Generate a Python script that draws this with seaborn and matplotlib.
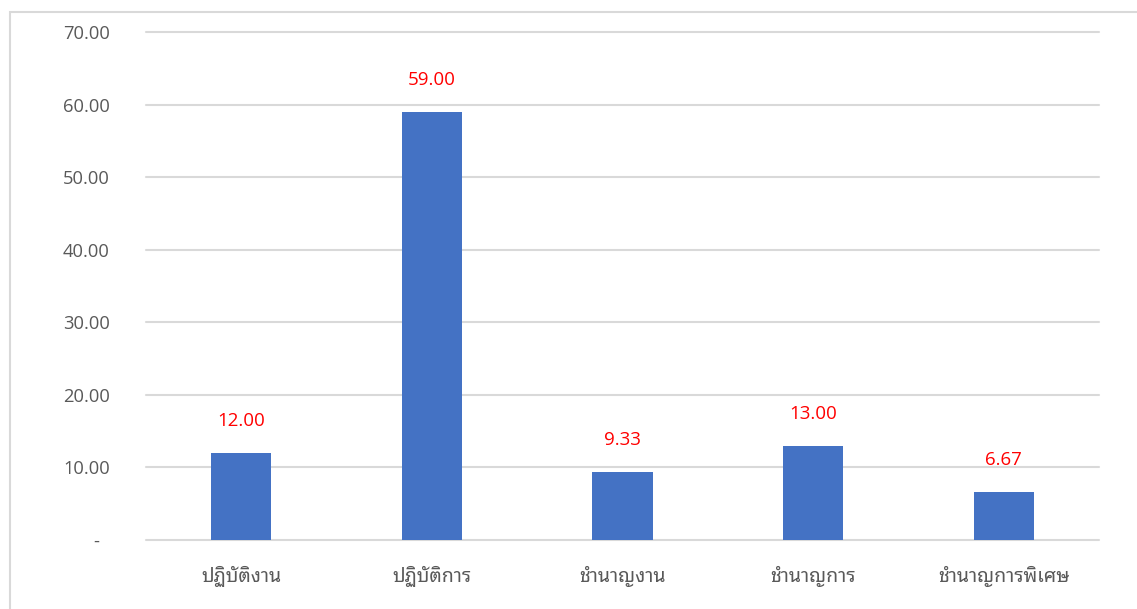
import matplotlib
matplotlib.use("Agg")
import matplotlib.pyplot as plt
from matplotlib.patches import Rectangle
from matplotlib.ticker import FixedLocator
import pandas as pd
import seaborn as sns

# Position levels and their values
categories = ["ปฏิบัติงาน", "ปฏิบัติการ", "ชำนาญงาน", "ชำนาญการ", "ชำนาญการพิเศษ"]
values = [12.00, 59.00, 9.33, 13.00, 6.67]
y_ticks = [0, 10, 20, 30, 40, 50, 60, 70]
y_tick_labels = ["-  ", "10.00", "20.00", "30.00", "40.00", "50.00", "60.00", "70.00"]

df = pd.DataFrame({"level": categories, "value": values})

sns.set_theme(style="white")
plt.rcParams["font.family"] = ["Open Sans", "Noto Sans Thai Looped", "DejaVu Sans"]

BAR = "#4472C4"
GRID = "#D9D9D9"
TEXT = "#595959"

fig = plt.figure(figsize=(11.37, 6.09), dpi=100)
ax = fig.add_axes([146 / 1137, 1 - 540 / 609, (1099 - 146) / 1137, (540 - 32) / 609])

sns.barplot(data=df, x="level", y="value", color=BAR, saturation=1, width=0.315,
            linewidth=0, ax=ax, zorder=3)

ax.set_ylim(0, 70)
ax.yaxis.set_major_locator(FixedLocator(y_ticks))
ax.set_yticklabels(y_tick_labels)
ax.set_xlim(-0.5, len(categories) - 0.5)
ax.set_xlabel("")
ax.set_ylabel("")

ax.grid(axis="y", color=GRID, linewidth=1.5, zorder=0)
ax.grid(axis="x", visible=False)
for line in ax.get_ygridlines():
    line.set_clip_on(False)
for s in ax.spines.values():
    s.set_visible(False)

ax.tick_params(axis="y", length=0, pad=26, labelsize=13.2, labelcolor=TEXT)
ax.tick_params(axis="x", length=0, pad=19, labelsize=14, labelcolor=TEXT)
for lbl in ax.get_xticklabels():
    lbl.set_fontfamily(["Noto Sans Thai Looped", "DejaVu Sans"])

for i, v in enumerate(values):
    ax.annotate(f"{v:.2f}", xy=(i, v), xytext=(0, 23), textcoords="offset points",
                ha="center", va="center", color="#FF0000", fontsize=13.5)

# Chart area frame
fig.patches.append(Rectangle((10 / 1137, -0.1), 1.2, 1 - 12 / 609 + 0.1,
                             transform=fig.transFigure, fill=False,
                             edgecolor=GRID, linewidth=1.5))

fig.savefig("out.png", dpi=100)
